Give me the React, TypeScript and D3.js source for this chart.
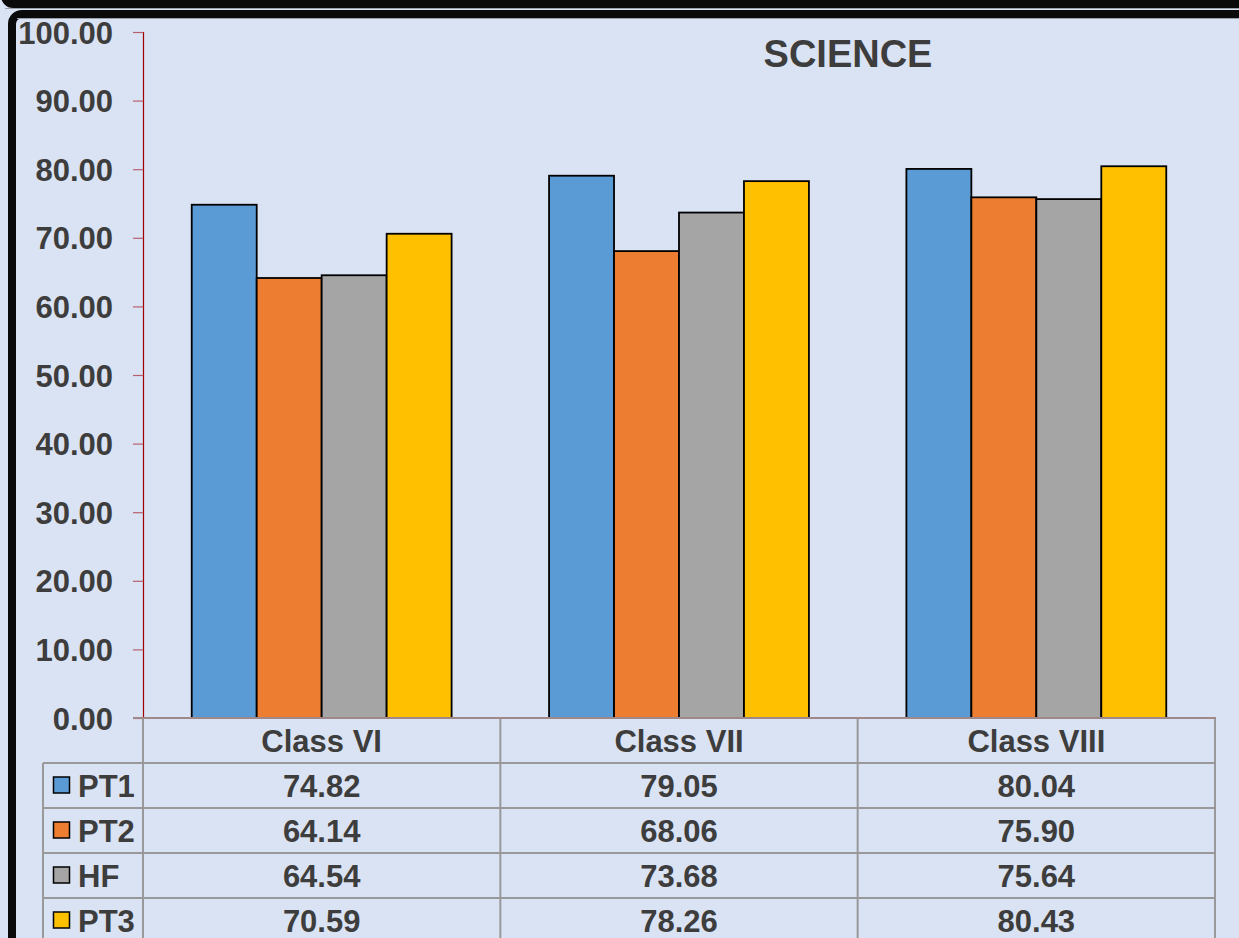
import React, { useEffect, useRef } from 'react'
import * as d3 from 'd3';

const classes = ['Class VI', 'Class VII', 'Class VIII'];
const series = ['PT1', 'PT2', 'HF', 'PT3'];
const colors = ['#5B9BD5', '#ED7D31', '#A5A5A5', '#FFC000'];
const pt1 = [74.82, 79.05, 80.04];
const pt2 = [64.14, 68.06, 75.90];
const hf = [64.54, 73.68, 75.64];
const pt3 = [70.59, 78.26, 80.43];
const yTicks = [0, 10, 20, 30, 40, 50, 60, 70, 80, 90, 100];

export default function App() {
    const ref = useRef<SVGSVGElement>(null);

    useEffect(() => {
        const svg = d3.select(ref.current);
        svg.selectAll("*").remove();

        const width = 1239;
        const height = 938;
        const left = 143, right = 1215, top = 32, bottom = 718;
        const rowH = 45;
        const font = "'Liberation Sans', Arial, sans-serif";
        const textColor = '#3d3d3d';
        const values = [pt1, pt2, hf, pt3];

        svg.append("rect").attr("width", width).attr("height", height).attr("fill", "#DAE3F3");

        // slide frames
        svg.append("rect")
            .attr("x", 5).attr("y", -40).attr("width", 1300).attr("height", 44)
            .attr("rx", 8).attr("fill", "none").attr("stroke", "#0a0a0a").attr("stroke-width", 8);
        svg.append("line").attr("x1", 5).attr("x2", width).attr("y1", 8.5).attr("y2", 8.5)
            .attr("stroke", "#9aa0aa").attr("stroke-width", 1);
        svg.append("rect")
            .attr("x", 12).attr("y", 14).attr("width", 1300).attr("height", 1000)
            .attr("rx", 10).attr("fill", "none").attr("stroke", "#0a0a0a").attr("stroke-width", 8);
        svg.append("line").attr("x1", 17).attr("x2", width).attr("y1", 18.5).attr("y2", 18.5)
            .attr("stroke", "#9aa0aa").attr("stroke-width", 1);

        const y = d3.scaleLinear().domain([0, 100]).range([bottom, top]);
        const x0 = d3.scaleBand().domain(classes).range([left, right]).padding(0);
        const x1 = d3.scaleBand().domain(series).range([0, x0.bandwidth()])
            .paddingInner(0).paddingOuter(0.75);

        // bars
        const groups = svg.append("g").selectAll("g")
            .data(classes)
            .enter()
            .append("g")
            .attr("transform", d => `translate(${x0(d)},0)`);

        groups.selectAll("rect")
            .data((d, i) => series.map((s, j) => ({ s, j, v: values[j][i] })))
            .enter()
            .append("rect")
            .attr("x", d => x1(d.s)!)
            .attr("y", d => y(d.v))
            .attr("width", x1.bandwidth())
            .attr("height", d => bottom - y(d.v))
            .attr("fill", d => colors[d.j])
            .attr("stroke", "#000")
            .attr("stroke-width", 1.8);

        // y axis
        const yAxis = svg.append("g").attr("transform", `translate(${left},0)`)
            .call(d3.axisLeft(y).tickValues(yTicks).tickSize(10).tickFormat(d => (+d).toFixed(2)));
        yAxis.select(".domain").attr("stroke", "#A00000").attr("stroke-width", 1.2)
            .attr("d", `M0.5,${top}V${bottom}`);
        yAxis.selectAll(".tick line").attr("stroke", "#B86070").attr("stroke-width", 1.2);
        yAxis.selectAll(".tick text")
            .attr("x", -30)
            .attr("dy", "0.36em")
            .attr("fill", textColor)
            .style("font-family", font)
            .style("font-size", "31px")
            .style("font-weight", "bold");

        // table grid
        const grid = svg.append("g").attr("stroke", "#999").attr("stroke-width", 2).attr("fill", "none");
        const tableBottom = bottom + rowH * 6;
        [...classes.map(c => x0(c)!), right].forEach(xv => {
            grid.append("line").attr("x1", xv).attr("x2", xv).attr("y1", bottom).attr("y2", tableBottom);
        });
        grid.append("line").attr("x1", 43).attr("x2", 43).attr("y1", bottom + rowH).attr("y2", tableBottom);
        for (let r = 1; r <= 5; r++) {
            grid.append("line").attr("x1", 43).attr("x2", right + 1).attr("y1", bottom + rowH * r).attr("y2", bottom + rowH * r);
        }
        svg.append("line").attr("x1", 133).attr("x2", right + 1).attr("y1", bottom).attr("y2", bottom)
            .attr("stroke", "#A08888").attr("stroke-width", 2);

        const txt = (g: any) => g.attr("fill", textColor)
            .style("font-family", font).style("font-size", "31px").style("font-weight", "bold");

        // category row
        svg.append("g").selectAll("text").data(classes).enter().append("text")
            .attr("x", d => x0(d)! + x0.bandwidth() / 2)
            .attr("y", bottom + rowH / 2 + 11)
            .attr("text-anchor", "middle")
            .text(d => d)
            .call(txt);

        // data rows
        series.forEach((s, j) => {
            const cy = bottom + rowH * (j + 1) + rowH / 2;
            svg.append("rect").attr("x", 53.5).attr("y", cy - 8.5).attr("width", 16).attr("height", 16)
                .attr("fill", colors[j]).attr("stroke", "#000").attr("stroke-width", 1.5);
            svg.append("text").attr("x", 78).attr("y", cy + 11).text(s).call(txt);
            svg.append("g").selectAll("text").data(classes).enter().append("text")
                .attr("x", d => x0(d)! + x0.bandwidth() / 2)
                .attr("y", cy + 11)
                .attr("text-anchor", "middle")
                .text((d, i) => values[j][i].toFixed(2))
                .call(txt);
        });

        // title
        svg.append("text")
            .attr("x", 848).attr("y", 67)
            .attr("text-anchor", "middle")
            .attr("fill", textColor)
            .style("font-family", font).style("font-size", "38px").style("font-weight", "bold")
            .text("SCIENCE");
    }, []);

    return (
        <svg ref={ref} width={1239} height={938}
            style={{ position: 'absolute', left: 0, top: 0, display: 'block' }} />
    )
}
